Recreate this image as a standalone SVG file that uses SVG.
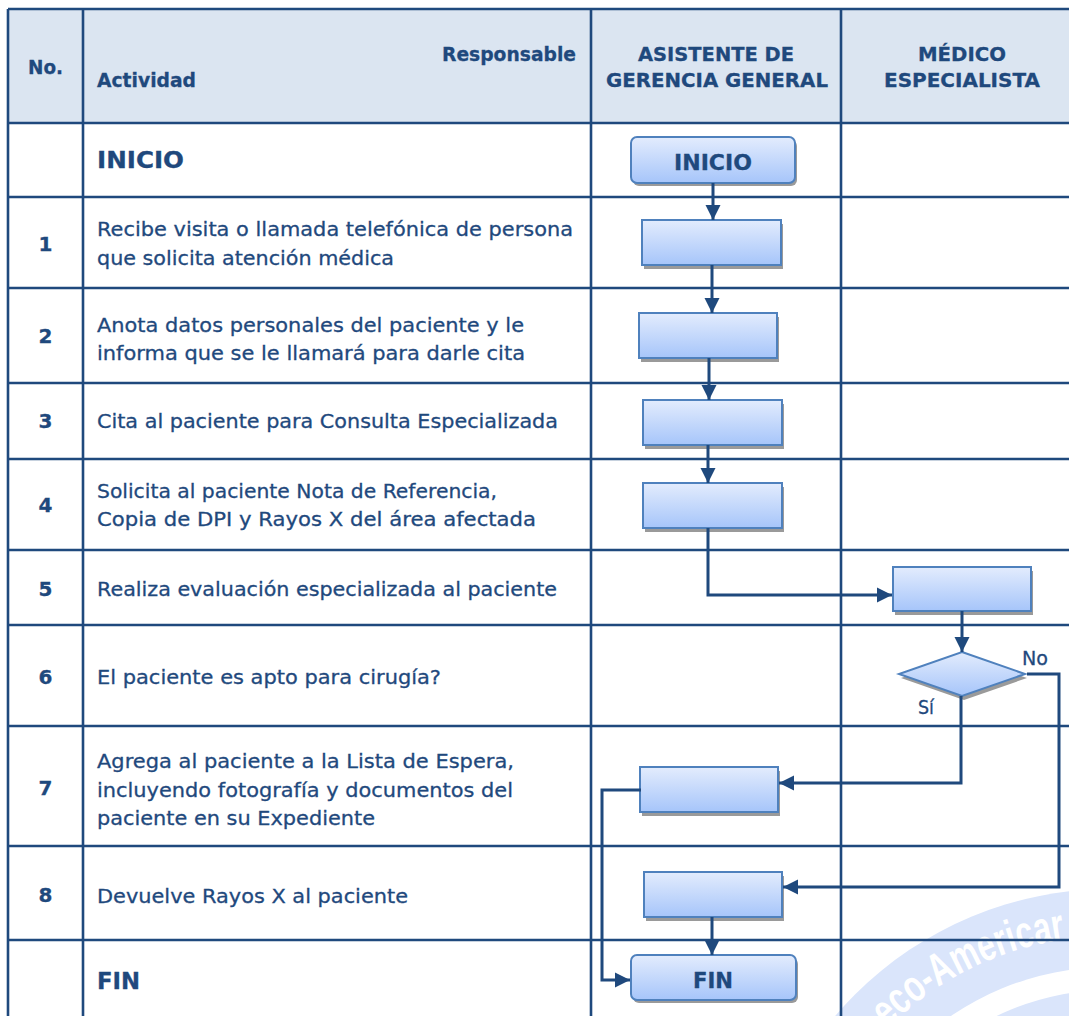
<svg xmlns="http://www.w3.org/2000/svg" width="1069" height="1016" viewBox="0 0 1069 1016">
<defs>
<linearGradient id="g" x1="0" y1="0" x2="0" y2="1">
<stop offset="0" stop-color="#e3ecfd"/>
<stop offset="1" stop-color="#a6c5fa"/>
</linearGradient>
<marker id="ar" markerUnits="userSpaceOnUse" markerWidth="16" markerHeight="16" viewBox="0 0 16 16" refX="15" refY="8" orient="auto">
<path d="M0,0.5 L15,8 L0,15.5 z" fill="#1f497d"/>
</marker>
<path id="wm" d="M838.1,1093 A314,314 0 0 1 1267,978.1"/>
</defs>
<style>
.t{font-family:"DejaVu Sans",Verdana,sans-serif;font-size:20px;fill:#1f497d;stroke:#1f497d;stroke-width:0.3}
.b{font-weight:bold}
.grid{stroke:#1f497d;stroke-width:2.6;fill:none}
.node{fill:url(#g);stroke:#4f81bd;stroke-width:2}
.sh{fill:#9a9a9a}
.con{stroke:#1f497d;stroke-width:3;fill:none;marker-end:url(#ar)}
</style>
<rect width="1069" height="1016" fill="#ffffff"/>
<g id="watermark">
<circle cx="1110" cy="1250" r="361" fill="#dae5fb"/>
<circle cx="1110" cy="1250" r="283" fill="#ffffff"/>
<circle cx="1110" cy="1250" r="260" fill="#dae5fb"/>
<text font-family="'Liberation Sans',Arial,sans-serif" font-weight="bold" font-size="45" fill="#ffffff"><textPath href="#wm" startOffset="82" textLength="202" lengthAdjust="spacingAndGlyphs">eco-Americar</textPath></text>
</g>
<g id="table">
<rect x="8" y="9" width="1070" height="114" fill="#dbe5f1"/>
<path class="grid" d="M8,9 H1069 M8,123 H1069 M8,197 H1069 M8,288 H1069 M8,383 H1069 M8,459 H1069 M8,550 H1069 M8,625 H1069 M8,726 H1069 M8,846 H1069 M8,940 H1069 M8,9 V1016 M83,9 V1016 M591,9 V1016 M841,9 V1016"/>
</g>
<g id="header">
<text class="t b" x="45.5" y="74" text-anchor="middle" textLength="35" lengthAdjust="spacingAndGlyphs">No.</text>
<text class="t b" x="576" y="61" text-anchor="end" textLength="134" lengthAdjust="spacingAndGlyphs">Responsable</text>
<text class="t b" x="97" y="87" textLength="99" lengthAdjust="spacingAndGlyphs">Actividad</text>
<text class="t b" x="716" y="61" text-anchor="middle" textLength="156" lengthAdjust="spacingAndGlyphs">ASISTENTE DE</text>
<text class="t b" x="717" y="87" text-anchor="middle" textLength="222" lengthAdjust="spacingAndGlyphs">GERENCIA GENERAL</text>
<text class="t b" x="962" y="61" text-anchor="middle" textLength="88" lengthAdjust="spacingAndGlyphs">MÉDICO</text>
<text class="t b" x="962" y="87" text-anchor="middle" textLength="156" lengthAdjust="spacingAndGlyphs">ESPECIALISTA</text>
</g>
<g id="activities">
<text class="t b" x="97" y="168" style="font-size:23px" textLength="87" lengthAdjust="spacingAndGlyphs">INICIO</text>
<text class="t b" x="45.5" y="251" text-anchor="middle">1</text>
<text class="t" x="97" y="236" textLength="476" lengthAdjust="spacingAndGlyphs">Recibe visita o llamada telefónica de persona</text>
<text class="t" x="97" y="265" textLength="297" lengthAdjust="spacingAndGlyphs">que solicita atención médica</text>
<text class="t b" x="45.5" y="343" text-anchor="middle">2</text>
<text class="t" x="97" y="331.5" textLength="427" lengthAdjust="spacingAndGlyphs">Anota datos personales del paciente y le</text>
<text class="t" x="97" y="360" textLength="428" lengthAdjust="spacingAndGlyphs">informa que se le llamará para darle cita</text>
<text class="t b" x="45.5" y="428" text-anchor="middle">3</text>
<text class="t" x="97" y="428" textLength="461" lengthAdjust="spacingAndGlyphs">Cita al paciente para Consulta Especializada</text>
<text class="t b" x="45.5" y="512" text-anchor="middle">4</text>
<text class="t" x="97" y="497.5" textLength="400" lengthAdjust="spacingAndGlyphs">Solicita al paciente Nota de Referencia,</text>
<text class="t" x="97" y="526" textLength="439" lengthAdjust="spacingAndGlyphs">Copia de DPI y Rayos X del área afectada</text>
<text class="t b" x="45.5" y="595.5" text-anchor="middle">5</text>
<text class="t" x="97" y="595.5" textLength="460" lengthAdjust="spacingAndGlyphs">Realiza evaluación especializada al paciente</text>
<text class="t b" x="45.5" y="683.5" text-anchor="middle">6</text>
<text class="t" x="97" y="683.5" textLength="344" lengthAdjust="spacingAndGlyphs">El paciente es apto para cirugía?</text>
<text class="t b" x="45.5" y="795" text-anchor="middle">7</text>
<text class="t" x="97" y="768" textLength="417" lengthAdjust="spacingAndGlyphs">Agrega al paciente a la Lista de Espera,</text>
<text class="t" x="97" y="796.5" textLength="416" lengthAdjust="spacingAndGlyphs">incluyendo fotografía y documentos del</text>
<text class="t" x="97" y="825" textLength="278" lengthAdjust="spacingAndGlyphs">paciente en su Expediente</text>
<text class="t b" x="45.5" y="902" text-anchor="middle">8</text>
<text class="t" x="97" y="903" textLength="311" lengthAdjust="spacingAndGlyphs">Devuelve Rayos X al paciente</text>
<text class="t b" x="97" y="989" style="font-size:23px" textLength="43" lengthAdjust="spacingAndGlyphs">FIN</text>
</g>
<g id="n-inicio">
<rect class="sh" x="633" y="140" width="164" height="46" rx="6"/>
<rect class="node" x="631" y="137" width="164" height="46" rx="6"/>
<text class="t b" x="713" y="170" style="font-size:21.5px" text-anchor="middle" textLength="78" lengthAdjust="spacingAndGlyphs">INICIO</text>
</g>
<g id="n1"><rect class="sh" x="644" y="224" width="139" height="45"/><rect class="node" x="642" y="220" width="139" height="45"/></g>
<g id="n2"><rect class="sh" x="641" y="317" width="138" height="45"/><rect class="node" x="639" y="313" width="138" height="45"/></g>
<g id="n3"><rect class="sh" x="645" y="404" width="139" height="45"/><rect class="node" x="643" y="400" width="139" height="45"/></g>
<g id="n4"><rect class="sh" x="645" y="487" width="139" height="45"/><rect class="node" x="643" y="483" width="139" height="45"/></g>
<g id="n5"><rect class="sh" x="895" y="571" width="138" height="44"/><rect class="node" x="893" y="567" width="138" height="44"/></g>
<g id="n6">
<polygon class="sh" points="964,656 1027,678 964,700 901,678"/>
<polygon class="node" points="962,652 1025,674 962,696 899,674"/>
</g>
<g id="n7"><rect class="sh" x="642" y="771" width="138" height="45"/><rect class="node" x="640" y="767" width="138" height="45"/></g>
<g id="n8"><rect class="sh" x="646" y="876" width="138" height="45"/><rect class="node" x="644" y="872" width="138" height="45"/></g>
<g id="n-fin">
<rect class="sh" x="633" y="958" width="165" height="45" rx="6"/>
<rect class="node" x="631" y="955" width="165" height="45" rx="6"/>
<text class="t b" x="713" y="988" style="font-size:21.5px" text-anchor="middle" textLength="40" lengthAdjust="spacingAndGlyphs">FIN</text>
</g>
<g id="connectors">
<path class="con" d="M713,183 V220"/>
<path class="con" d="M712,265 V313"/>
<path class="con" d="M709,358 V400"/>
<path class="con" d="M708,445 V483"/>
<path class="con" d="M708,528 V595 H892"/>
<path class="con" d="M962,611 V652"/>
<path class="con" d="M961,696 V783 H779"/>
<path class="con" d="M1027,674 H1059 V887 H783"/>
<path class="con" d="M641,790 H602 V980 H630"/>
<path class="con" d="M712,917 V955"/>
<text class="t" x="1022" y="665" textLength="26" lengthAdjust="spacingAndGlyphs">No</text>
<text class="t" x="918" y="714" textLength="16" lengthAdjust="spacingAndGlyphs">Sí</text>
</g>
</svg>
